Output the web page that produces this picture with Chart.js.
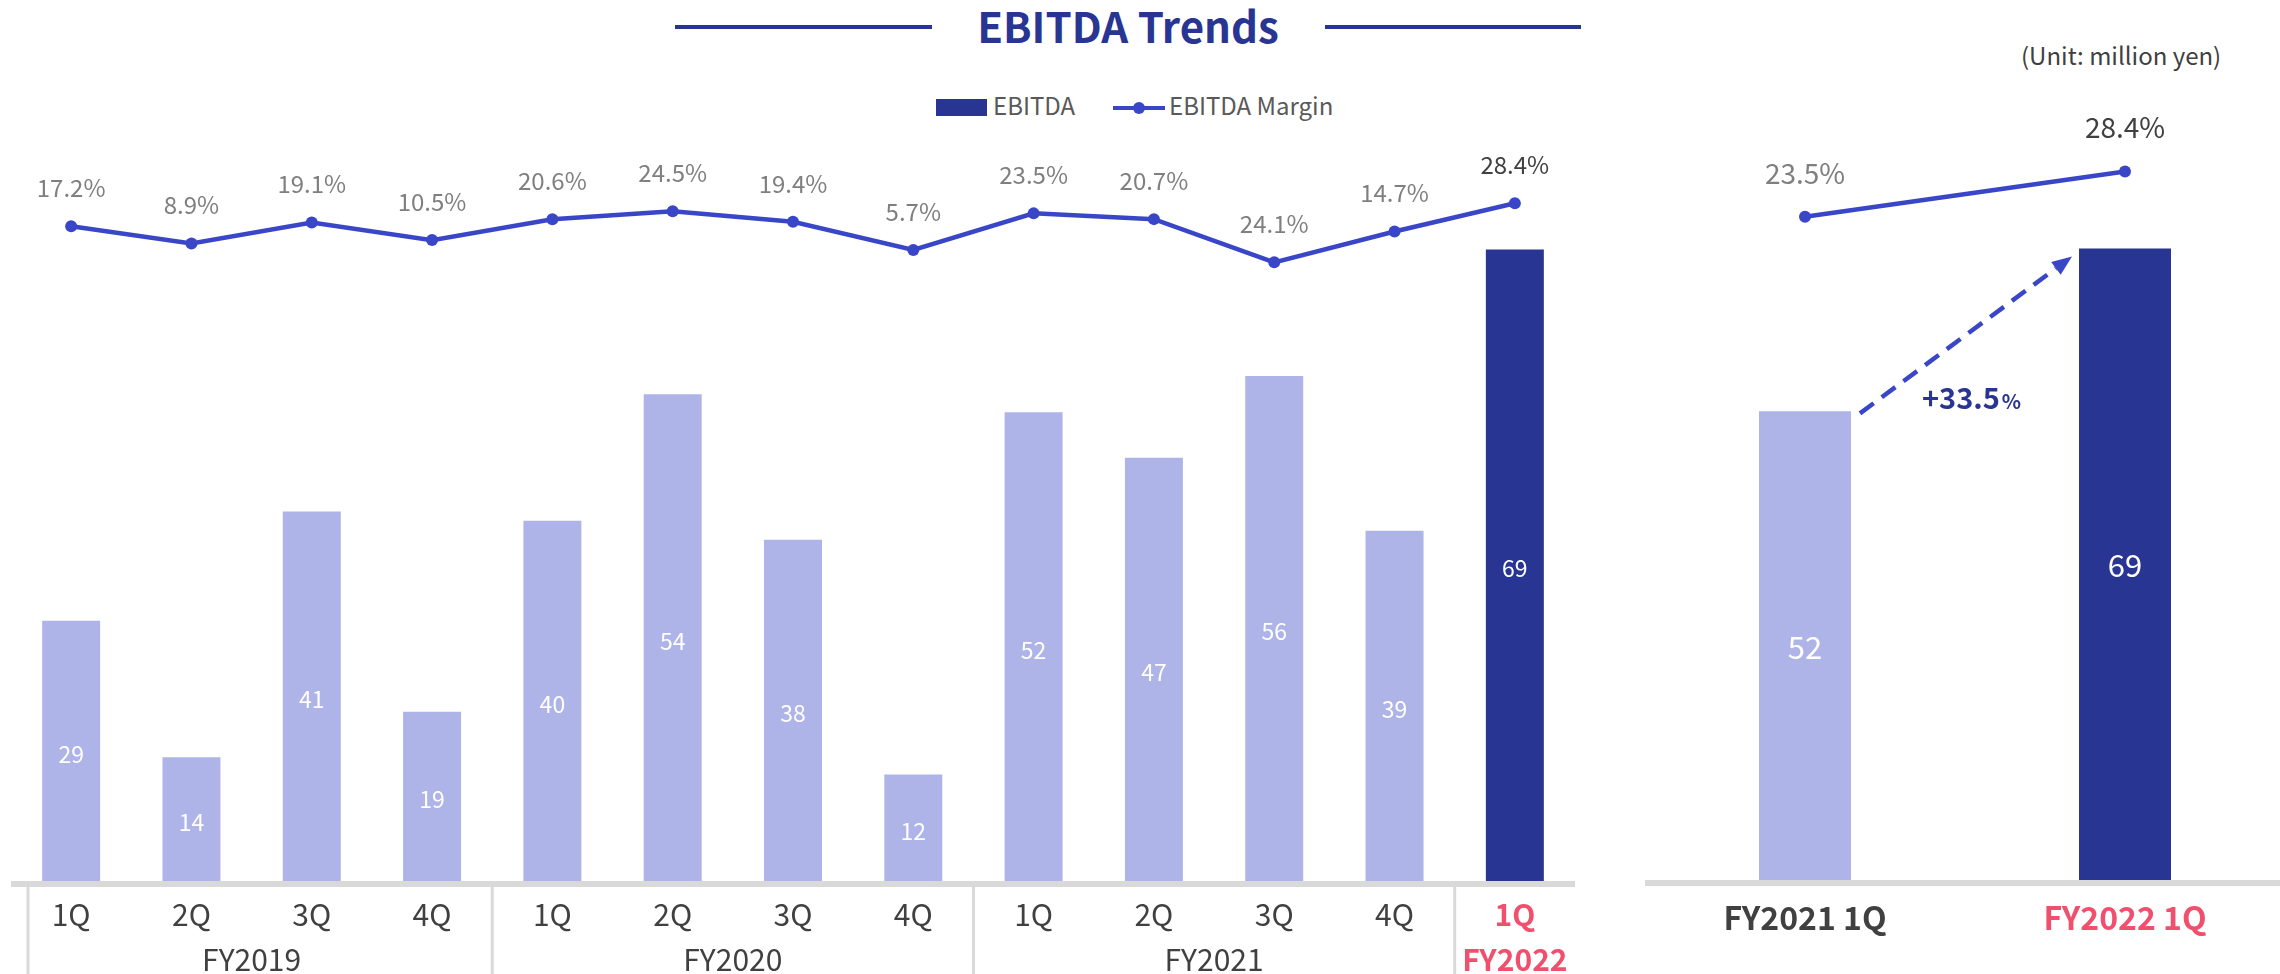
<!DOCTYPE html>
<html lang="en">
<head>
<meta charset="utf-8">
<title>EBITDA Trends</title>
<script src="https://cdn.jsdelivr.net/npm/chart.js@4.4.1/dist/chart.umd.min.js"></script>
<style>
    html, body { margin: 0; padding: 0; background: #fff; }
    body {
        width: 2280px; height: 974px; position: relative; overflow: hidden;
        font-family: "Noto Sans CJK JP", "Noto Sans", sans-serif;
    }
    .title {
        position: absolute; left: 0; top: 4px; width: 2256px; text-align: center;
        font-size: 42px; line-height: 42px; font-weight: 700; color: #283593;
    }
    .title-line { position: absolute; top: 25px; height: 4px; background: #283593; }
    .unit {
        position: absolute; left: 2021px; top: 43px;
        font-size: 24px; line-height: 24px; color: #404040; white-space: nowrap;
    }
    .lg { position: absolute; }
    .lg-text { font-size: 24px; line-height: 24px; color: #595959; top: 93px; white-space: nowrap; }
    .chart-box { position: absolute; top: 0; height: 974px; }
</style>
</head>
<body>

<div class="title-line" style="left:675px; width:257px;"></div>
<div class="title">EBITDA Trends</div>
<div class="title-line" style="left:1325px; width:256px;"></div>
<div class="unit">(Unit: million yen)</div>

<!-- legend -->
<div class="lg" style="left:936px; top:99px; width:51px; height:17px; background:#283593;"></div>
<div class="lg lg-text" style="left:993px;">EBITDA</div>
<div class="lg" style="left:1113px; top:106px; width:52px; height:4px; background:#3a46c8;"></div>
<div class="lg" style="left:1133px; top:102px; width:12px; height:12px; border-radius:50%; background:#3a46c8;"></div>
<div class="lg lg-text" style="left:1169px;">EBITDA Margin</div>

<div class="chart-box" style="left:11px; width:1564px;"><canvas id="trendChart"></canvas></div>
<div class="chart-box" style="left:1645px; width:640px;"><canvas id="compareChart"></canvas></div>

<script>
// quarterly data (million yen, labels show rounded values)
const quarterLabels = ['1Q', '2Q', '3Q', '4Q', '1Q', '2Q', '3Q', '4Q', '1Q', '2Q', '3Q', '4Q', '1Q'];
const fiscalYears = ['FY2019', 'FY2020', 'FY2021', 'FY2022'];
const quartersPerYear = [4, 4, 4, 1];
const ebitda = [28.6, 13.6, 40.6, 18.6, 39.6, 53.5, 37.5, 11.7, 51.5, 46.5, 55.5, 38.5, 69.4];
const ebitdaMargin = [17.2, 8.9, 19.1, 10.5, 20.6, 24.5, 19.4, 5.7, 23.5, 20.7, 24.1, 14.7, 28.4];
// where the margin points sit on the slide (FY2021 3Q point is drawn near 0)
const ebitdaMarginPlotted = [17.2, 8.9, 19.1, 10.5, 20.6, 24.5, 19.4, 5.7, 23.5, 20.7, -0.3, 14.7, 28.4];

// year-on-year comparison
const compareLabels = ['FY2021 1Q', 'FY2022 1Q'];
const compareEbitda = [51.5, 69.4];
const compareMargin = [23.5, 28.4];
const growthText = '+33.5';

const NAVY = '#283593';
const LIGHT = '#aeb4e8';
const LINE = '#3a46c8';
const PINK = '#f0506e';
const DARK = '#404040';
const GREY = '#7f7f7f';
const AXIS = '#d9d9d9';
const FONT = '"Noto Sans CJK JP", "Noto Sans", sans-serif';

let trendChart = null;
let compareChart = null;

function initCharts() {
    renderTrendChart();
    renderCompareChart();
}

// axis line, tick labels and value labels of the quarterly chart
const trendDecor = {
    id: 'trendDecor',
    afterDatasetsDraw(chart) {
        const ctx = chart.ctx;
        const area = chart.chartArea;
        const xs = chart.scales.x;
        const last = quarterLabels.length - 1;
        ctx.save();

        // axis line
        ctx.fillStyle = AXIS;
        ctx.fillRect(area.left, area.bottom, area.right - area.left, 6);

        // year separators and fiscal year labels
        ctx.textAlign = 'center';
        ctx.textBaseline = 'alphabetic';
        let start = 0;
        quartersPerYear.forEach((n, g) => {
            const sx = start === 0 ? area.left + 17 : (xs.getPixelForValue(start - 1) + xs.getPixelForValue(start)) / 2;
            ctx.fillStyle = AXIS;
            ctx.fillRect(sx - 1.5, area.bottom + 6, 3, chart.height - area.bottom);

            const cx = (xs.getPixelForValue(start) + xs.getPixelForValue(start + n - 1)) / 2;
            const isLast = g === fiscalYears.length - 1;
            ctx.font = (isLast ? 'bold ' : '') + '30px ' + FONT;
            ctx.fillStyle = isLast ? PINK : DARK;
            ctx.fillText(fiscalYears[g], cx, area.bottom + 90);
            start += n;
        });

        // quarter labels
        quarterLabels.forEach((q, i) => {
            ctx.font = (i === last ? 'bold ' : '') + '30px ' + FONT;
            ctx.fillStyle = i === last ? PINK : DARK;
            ctx.fillText(q, xs.getPixelForValue(i), area.bottom + 45);
        });

        // bar values
        const bars = chart.getDatasetMeta(1).data;
        ctx.font = '23px ' + FONT;
        ctx.fillStyle = '#ffffff';
        bars.forEach((bar, i) => {
            ctx.fillText(String(Math.round(ebitda[i])), bar.x, (bar.y + bar.base) / 2 + 12);
        });

        // margin labels
        const points = chart.getDatasetMeta(0).data;
        ctx.font = '24px ' + FONT;
        points.forEach((pt, i) => {
            ctx.fillStyle = i === last ? DARK : GREY;
            ctx.fillText(ebitdaMargin[i].toFixed(1) + '%', pt.x, pt.y - 29);
        });
        ctx.restore();
    }
};

// quarterly EBITDA chart
function renderTrendChart() {
    const ctx = document.getElementById('trendChart');
    if (!ctx) return;

    if (trendChart) {
        trendChart.destroy();
    }

    const last = ebitda.length - 1;

    trendChart = new Chart(ctx, {
        type: 'bar',
        data: {
            labels: quarterLabels,
            datasets: [{
                type: 'line',
                label: 'EBITDA Margin',
                data: ebitdaMarginPlotted,
                yAxisID: 'yMargin',
                borderColor: LINE,
                backgroundColor: LINE,
                borderWidth: 4.5,
                pointRadius: 6,
                pointHoverRadius: 6,
                pointBorderWidth: 0,
                clip: false,
                order: 0
            }, {
                type: 'bar',
                label: 'EBITDA',
                data: ebitda,
                yAxisID: 'y',
                backgroundColor: ebitda.map((v, i) => i === last ? NAVY : LIGHT),
                barPercentage: 0.482,
                categoryPercentage: 1,
                order: 1
            }]
        },
        options: {
            responsive: true,
            maintainAspectRatio: false,
            animation: false,
            layout: {
                autoPadding: false,
                padding: { top: 153, left: 0, right: 0, bottom: 0 }
            },
            plugins: {
                legend: { display: false },
                tooltip: { enabled: false }
            },
            scales: {
                x: {
                    grid: { display: false },
                    border: { display: false },
                    ticks: { display: false },
                    afterFit: (scale) => { scale.height = 93; }
                },
                y: { display: false, min: 0, max: 80 },
                yMargin: { display: false, min: -301.07, max: 52.85 }
            }
        },
        plugins: [trendDecor]
    });
}

// labels and growth arrow of the comparison chart
const compareDecor = {
    id: 'compareDecor',
    afterDatasetsDraw(chart) {
        const ctx = chart.ctx;
        const area = chart.chartArea;
        const xs = chart.scales.x;
        ctx.save();

        ctx.fillStyle = AXIS;
        ctx.fillRect(area.left, area.bottom, area.right - area.left, 6);

        ctx.textAlign = 'center';
        ctx.textBaseline = 'alphabetic';
        compareLabels.forEach((lab, i) => {
            ctx.font = 'bold 32px ' + FONT;
            ctx.fillStyle = i === 1 ? PINK : DARK;
            ctx.fillText(lab, xs.getPixelForValue(i), area.bottom + 50);
        });

        const bars = chart.getDatasetMeta(1).data;
        ctx.font = '31px ' + FONT;
        ctx.fillStyle = '#ffffff';
        bars.forEach((bar, i) => {
            ctx.fillText(String(Math.round(compareEbitda[i])), bar.x, (bar.y + bar.base) / 2 + 13);
        });

        const points = chart.getDatasetMeta(0).data;
        ctx.font = '28px ' + FONT;
        points.forEach((pt, i) => {
            ctx.fillStyle = i === 1 ? DARK : GREY;
            ctx.fillText(compareMargin[i].toFixed(1) + '%', pt.x, pt.y - 33);
        });

        // dashed arrow between bar tops
        const b0 = bars[0], b1 = bars[1];
        const x0 = b0.x + b0.width / 2 + 9, y0 = b0.y + 2;
        const x1 = b1.x - b1.width / 2 - 7, y1 = b1.y + 8;
        const ang = Math.atan2(y1 - y0, x1 - x0);
        const head = 20;
        ctx.strokeStyle = LINE;
        ctx.lineWidth = 4.5;
        ctx.setLineDash([17, 10]);
        ctx.beginPath();
        ctx.moveTo(x0, y0);
        ctx.lineTo(x1 - Math.cos(ang) * head, y1 - Math.sin(ang) * head);
        ctx.stroke();
        ctx.setLineDash([]);
        ctx.fillStyle = LINE;
        ctx.beginPath();
        ctx.moveTo(x1, y1);
        ctx.lineTo(x1 - Math.cos(ang) * head + Math.sin(ang) * 8, y1 - Math.sin(ang) * head - Math.cos(ang) * 8);
        ctx.lineTo(x1 - Math.cos(ang) * head - Math.sin(ang) * 8, y1 - Math.sin(ang) * head + Math.cos(ang) * 8);
        ctx.closePath();
        ctx.fill();

        // growth rate
        const mx = (x0 + x1) / 2, my = (y0 + y1) / 2;
        ctx.textAlign = 'left';
        ctx.fillStyle = NAVY;
        ctx.font = 'bold 29px ' + FONT;
        ctx.fillText(growthText, mx - 44, my + 74);
        const w = ctx.measureText(growthText).width;
        ctx.font = 'bold 20px ' + FONT;
        ctx.fillText('%', mx - 44 + w + 2, my + 74);
        ctx.restore();
    }
};

// FY2021 1Q vs FY2022 1Q chart
function renderCompareChart() {
    const ctx = document.getElementById('compareChart');
    if (!ctx) return;

    if (compareChart) {
        compareChart.destroy();
    }

    compareChart = new Chart(ctx, {
        type: 'bar',
        data: {
            labels: compareLabels,
            datasets: [{
                type: 'line',
                label: 'EBITDA Margin',
                data: compareMargin,
                yAxisID: 'yMargin',
                borderColor: LINE,
                backgroundColor: LINE,
                borderWidth: 4.5,
                pointRadius: 6,
                pointHoverRadius: 6,
                pointBorderWidth: 0,
                clip: false,
                order: 0
            }, {
                type: 'bar',
                label: 'EBITDA',
                data: compareEbitda,
                yAxisID: 'y',
                backgroundColor: [LIGHT, NAVY],
                barPercentage: 0.2875,
                categoryPercentage: 1,
                order: 1
            }]
        },
        options: {
            responsive: true,
            maintainAspectRatio: false,
            animation: false,
            layout: {
                autoPadding: false,
                padding: { top: 152, left: 0, right: 0, bottom: 0 }
            },
            plugins: {
                legend: { display: false },
                tooltip: { enabled: false }
            },
            scales: {
                x: {
                    grid: { display: false },
                    border: { display: false },
                    ticks: { display: false },
                    afterFit: (scale) => { scale.height = 94; }
                },
                y: { display: false, min: 0, max: 80 },
                yMargin: { display: false, min: -48.2, max: 30.5 }
            }
        },
        plugins: [compareDecor]
    });
}

Promise.all([
    document.fonts.load('30px "Noto Sans CJK JP"'),
    document.fonts.load('bold 30px "Noto Sans CJK JP"')
]).then(initCharts, initCharts);
</script>
</body>
</html>
